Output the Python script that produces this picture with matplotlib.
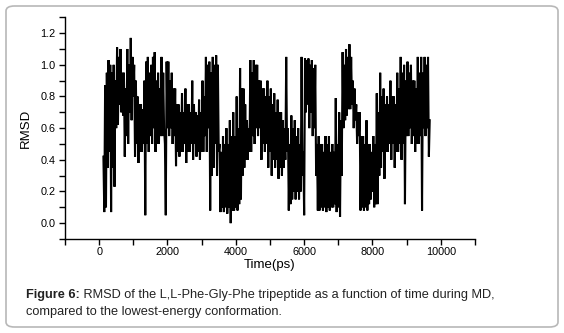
import numpy as np
import matplotlib
matplotlib.use("Agg")
import matplotlib.pyplot as plt
from matplotlib.patches import FancyBboxPatch

plt.rcParams['font.family'] = ['Liberation Sans', 'DejaVu Sans']

# RMSD, 25 ps apart (4 values per 100 ps window), starting at 125 ps
rmsd = [
    0.42, 0.07, 0.87, 0.10,   0.95, 0.35, 1.03, 0.45,   1.00, 0.07, 0.95, 0.35,   1.00, 0.23, 0.90, 0.60,
    1.11, 0.62, 1.05, 0.75,   1.10, 0.70, 0.95, 0.68,   0.95, 0.42, 0.85, 0.55,   1.10, 0.50, 1.00, 0.70,
    1.17, 0.65, 1.05, 0.80,   1.00, 0.42, 0.90, 0.50,   0.80, 0.38, 0.75, 0.45,   0.75, 0.45, 0.72, 0.50,
    0.90, 0.05, 1.02, 0.50,   1.05, 0.45, 0.95, 0.55,   1.00, 0.50, 1.05, 0.60,   1.08, 0.45, 0.90, 0.50,
    0.95, 0.50, 0.85, 0.55,   1.05, 0.55, 0.95, 0.60,   0.50, 0.05, 1.02, 0.60,   1.02, 0.55, 0.90, 0.60,
    0.95, 0.50, 0.85, 0.55,   0.85, 0.36, 0.75, 0.45,   0.75, 0.42, 0.70, 0.45,   0.82, 0.45, 0.70, 0.50,
    0.85, 0.38, 0.75, 0.45,   0.75, 0.45, 0.70, 0.50,   0.90, 0.40, 0.75, 0.50,   0.70, 0.42, 0.68, 0.45,
    0.78, 0.40, 0.70, 0.45,   0.90, 0.45, 0.80, 0.55,   1.05, 0.45, 1.00, 0.60,   1.02, 0.08, 0.95, 0.30,
    1.05, 0.35, 1.00, 0.50,   1.06, 0.30, 1.00, 0.45,   0.50, 0.07, 0.45, 0.10,   0.55, 0.07, 0.50, 0.10,
    0.60, 0.06, 0.50, 0.10,   0.65, 0.00, 0.55, 0.08,   0.70, 0.08, 0.55, 0.10,   0.80, 0.08, 0.60, 0.12,
    0.98, 0.15, 0.85, 0.30,   0.85, 0.35, 0.75, 0.40,   0.65, 0.40, 0.60, 0.45,   1.03, 0.45, 0.95, 0.55,
    1.03, 0.50, 1.00, 0.60,   1.00, 0.55, 0.90, 0.60,   0.90, 0.40, 0.85, 0.50,   0.85, 0.45, 0.80, 0.50,
    0.90, 0.35, 0.80, 0.45,   0.85, 0.30, 0.75, 0.40,   0.82, 0.35, 0.70, 0.40,   0.78, 0.28, 0.70, 0.35,
    0.70, 0.30, 0.65, 0.35,   0.60, 0.40, 1.05, 0.45,   0.60, 0.08, 0.50, 0.12,   0.68, 0.15, 0.60, 0.20,
    0.65, 0.15, 0.55, 0.20,   0.60, 0.15, 0.50, 0.20,   1.05, 0.30, 0.45, 0.05,   1.04, 0.70, 1.03, 0.75,
    1.04, 0.60, 1.00, 0.70,   1.03, 0.55, 0.98, 0.60,   1.00, 0.30, 0.50, 0.08,   0.55, 0.08, 0.50, 0.10,
    0.50, 0.08, 0.45, 0.10,   0.55, 0.07, 0.50, 0.10,   0.55, 0.08, 0.45, 0.10,   0.50, 0.10, 0.45, 0.12,
    0.79, 0.07, 0.50, 0.10,   0.70, 0.04, 0.65, 0.30,   1.08, 0.60, 1.00, 0.65,   1.10, 0.68, 1.05, 0.72,
    1.13, 0.72, 1.05, 0.75,   0.90, 0.60, 0.85, 0.65,   0.75, 0.50, 0.70, 0.55,   0.70, 0.08, 0.55, 0.10,
    0.55, 0.08, 0.50, 0.10,   0.65, 0.08, 0.50, 0.12,   0.50, 0.15, 0.45, 0.20,   0.55, 0.10, 0.50, 0.12,
    0.82, 0.12, 0.70, 0.30,   0.95, 0.35, 0.80, 0.45,   0.85, 0.28, 0.75, 0.45,   0.80, 0.45, 0.75, 0.50,
    0.90, 0.40, 0.80, 0.50,   0.80, 0.35, 0.75, 0.45,   0.95, 0.45, 0.85, 0.50,   1.05, 0.40, 0.95, 0.50,
    1.00, 0.12, 0.90, 0.55,   1.02, 0.55, 0.95, 0.60,   1.00, 0.50, 0.90, 0.55,   0.90, 0.45, 0.85, 0.50,
    1.05, 0.50, 0.95, 0.55,   1.05, 0.08, 0.95, 0.60,   1.05, 0.55, 1.00, 0.60,   1.05, 0.42, 0.65,
]
t_start = 125
t_step = 25
time_ps = t_start + t_step * np.arange(len(rmsd))

x_ticks = [0, 2000, 4000, 6000, 8000, 10000]
y_ticks = [0.0, 0.2, 0.4, 0.6, 0.8, 1.0, 1.2]

caption_bold = 'Figure 6:'
caption_line1 = ' RMSD of the L,L-Phe-Gly-Phe tripeptide as a function of time during MD,'
caption_line2 = 'compared to the lowest-energy conformation.'

fig = plt.figure(figsize=(5.64, 3.33), dpi=100)

# rounded frame around the figure
frame = FancyBboxPatch((6 / 564, 6 / 333), 552 / 564, 321 / 333,
                       boxstyle="round,pad=0,rounding_size=0.015",
                       transform=fig.transFigure, fill=False,
                       edgecolor='#b8b8b8', linewidth=1.2)
fig.patches.append(frame)

ax = fig.add_axes([0.1152, 0.2823, 0.7270, 0.6657])
ax.plot(time_ps, rmsd, color='black', linewidth=1.5, solid_joinstyle='miter')

ax.set_xlim(-1000, 11000)
ax.set_ylim(-0.1, 1.3)
ax.set_xticks(x_ticks)
ax.set_xticks(np.arange(-1000, 11001, 1000), minor=True)
ax.set_yticks(y_ticks)
ax.set_yticks(np.arange(-0.1, 1.31, 0.1), minor=True)
ax.set_yticklabels([f'{v:.1f}' for v in y_ticks])

for s in ['top', 'right']:
    ax.spines[s].set_visible(False)
for s in ['left', 'bottom']:
    ax.spines[s].set_linewidth(1.0)

ax.tick_params(which='both', direction='out', length=4, width=1.0,
               labelsize=7.8, colors='black')
ax.tick_params(axis='x', pad=2)
ax.tick_params(axis='y', pad=3)

ax.set_xlabel('Time(ps)', fontsize=9.5, labelpad=1)
ax.set_ylabel('RMSD', fontsize=9.5, labelpad=6)

cap_x = 26 / 564
t_bold = fig.text(cap_x, 1 - 295 / 333, caption_bold, fontsize=9.2, fontweight='bold',
                  va='center', ha='left', color='#222222')
fig.canvas.draw()
bb = t_bold.get_window_extent(renderer=fig.canvas.get_renderer())
fig.text(bb.x1 / fig.bbox.width, 1 - 295 / 333, caption_line1,
         fontsize=9.2, va='center', ha='left', color='#222222')
fig.text(cap_x, 1 - 312 / 333, caption_line2,
         fontsize=9.2, va='center', ha='left', color='#222222')

fig.savefig('out.png', dpi=100)
